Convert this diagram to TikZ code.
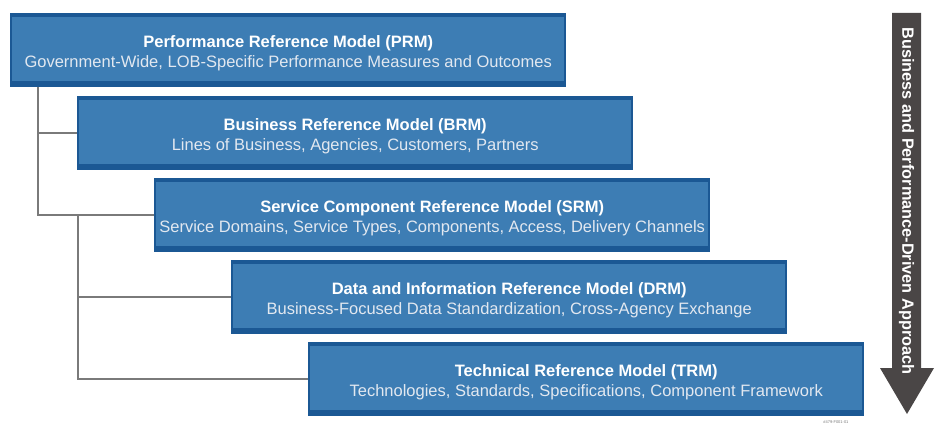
\documentclass[tikz,border=0pt]{standalone}
\usepackage{fontspec}
\setmainfont{Liberation Sans}
% title and subtitle of one model box, set a little below the centre
\newcommand\modeltext[2]{\raisebox{-3pt}[\height][\depth]{%
  \begin{tabular}{@{}c@{}}\textbf{#1}\\{\color{subwhite}#2}\end{tabular}}}
\begin{document}
\begin{tikzpicture}[x=1pt,y=-1pt,
  modelbox/.style={rectangle, anchor=north west, minimum width=556pt, minimum height=74pt,
    inner sep=0pt, fill=bandblue, text=white,
    font=\fontsize{16.5}{20}\selectfont,
    path picture={\fill[boxblue] ([xshift=2pt,yshift=-4pt]path picture bounding box.north west)
      rectangle ([xshift=-2pt,yshift=6pt]path picture bounding box.south east);}},
  link/.style={draw=linegray, line width=1.8pt}]
\definecolor{boxblue}{RGB}{61,125,180}
\definecolor{bandblue}{RGB}{27,88,148}
\definecolor{subwhite}{RGB}{226,232,240}
\definecolor{linegray}{RGB}{122,122,122}
\definecolor{arrowgray}{RGB}{74,70,70}

\useasboundingbox (0,0) rectangle (935,425);

% the five reference models, stepped down and to the right
\node[modelbox] (prm) at (10,13)
  {\modeltext{Performance Reference Model (PRM)}{Government-Wide, LOB-Specific Performance Measures and Outcomes}};
\node[modelbox] (brm) at (77,96)
  {\modeltext{Business Reference Model (BRM)}{Lines of Business, Agencies, Customers, Partners}};
\node[modelbox] (srm) at (154,178)
  {\modeltext{Service Component Reference Model (SRM)}{Service Domains, Service Types, Components, Access, Delivery Channels}};
\node[modelbox] (drm) at (231,260)
  {\modeltext{Data and Information Reference Model (DRM)}{Business-Focused Data Standardization, Cross-Agency Exchange}};
\node[modelbox] (trm) at (308,342)
  {\modeltext{Technical Reference Model (TRM)}{Technologies, Standards, Specifications, Component Framework}};

% tree connectors
\coordinate (p) at ([xshift=28pt]prm.south west);
\coordinate (j) at ([xshift=1pt]brm.west |- srm.west);
\draw[link] (p) |- (brm.west);
\draw[link] (p) |- (srm.west);
\draw[link] (j) |- (drm.west);
\draw[link] (j) |- (trm.west);

% downward approach arrow
\fill[arrowgray] (892,13) -- (921,13) -- (921,368) -- (934,368) -- (907,414)
  -- (880,368) -- (892,368) -- cycle;
\node[rotate=-90, text=white, font=\fontsize{16.3}{18}\bfseries\selectfont] (approach) at (906.5,201)
  {Business and Performance-Driven Approach};

\node[text=linegray, font=\fontsize{4}{5}\selectfont, anchor=north east] (code) at (852,417) {\#479-F001-01};
\end{tikzpicture}
\end{document}
